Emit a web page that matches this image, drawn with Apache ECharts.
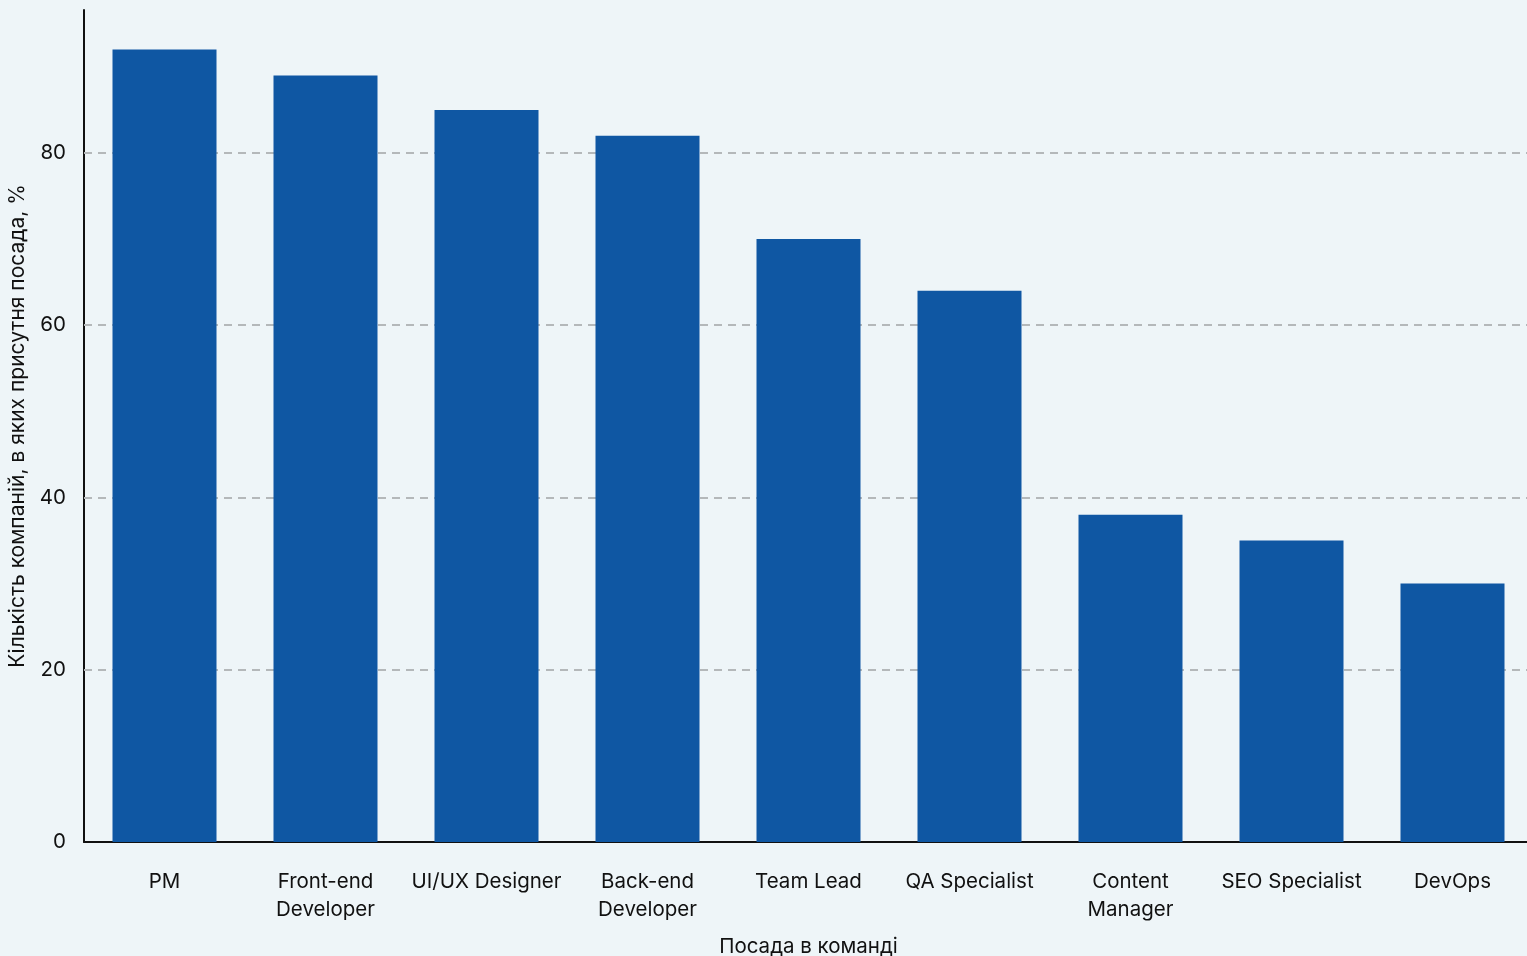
<!DOCTYPE html>
<html>
<head>
<meta charset="utf-8">
<script src="https://cdn.jsdelivr.net/npm/echarts@6/dist/echarts.min.js"></script>
<style>
  html, body { margin: 0; padding: 0; background: #eef5f8; }
  #chart { width: 1527px; height: 956px; }
</style>
</head>
<body>
<div id="chart"></div>
<script>
// Roles in the team
const roles = [
  'PM', 'Front-end\nDeveloper', 'UI/UX Designer', 'Back-end\nDeveloper',
  'Team Lead', 'QA Specialist', 'Content\nManager', 'SEO Specialist', 'DevOps'
];
// Share of companies that have the role, %
const shares = [92, 89, 85, 82, 70, 64, 38, 35, 30];
// Gridline levels on the value axis
const gridLevels = [20, 40, 60, 80];

const font = 'Inter, "Noto Sans", sans-serif';
const chart = echarts.init(document.getElementById('chart'));

chart.setOption({
  backgroundColor: '#eef5f8',
  animation: false,
  grid: {
    left: 84, top: 10, bottom: 114, width: 1449,
    containLabel: false, outerBoundsMode: 'none'
  },
  xAxis: {
    type: 'category',
    data: roles,
    name: 'Посада в команді',
    nameLocation: 'middle',
    nameGap: 94,
    nameTextStyle: { fontFamily: font, fontSize: 20.5, color: '#111' },
    axisLine: { lineStyle: { color: '#111', width: 2 } },
    axisTick: { show: false },
    axisLabel: {
      interval: 0, margin: 26, fontFamily: font, fontSize: 20.5,
      lineHeight: 28, color: '#111'
    }
  },
  yAxis: {
    type: 'value',
    min: 0,
    max: 96.6,
    interval: 20,
    name: 'Кількість компаній, в яких присутня посада, %',
    nameLocation: 'middle',
    nameGap: 56,
    nameTextStyle: { fontFamily: font, fontSize: 21, color: '#111' },
    axisLine: { show: true, lineStyle: { color: '#111', width: 2 } },
    axisTick: { show: false },
    axisLabel: { showMaxLabel: false, margin: 18, fontFamily: font, fontSize: 20.5, color: '#111' },
    splitLine: { show: false }
  },
  series: [{
    type: 'bar',
    data: shares,
    barWidth: '64.6%',
    itemStyle: { color: '#0f57a3' },
    z: 3,
    markLine: {
      silent: true,
      symbol: 'none',
      label: { show: false },
      lineStyle: { color: '#b4b8ba', type: [8, 6], width: 2 },
      z: 1,
      data: gridLevels.map(v => ({ yAxis: v }))
    }
  }]
});
</script>
</body>
</html>
